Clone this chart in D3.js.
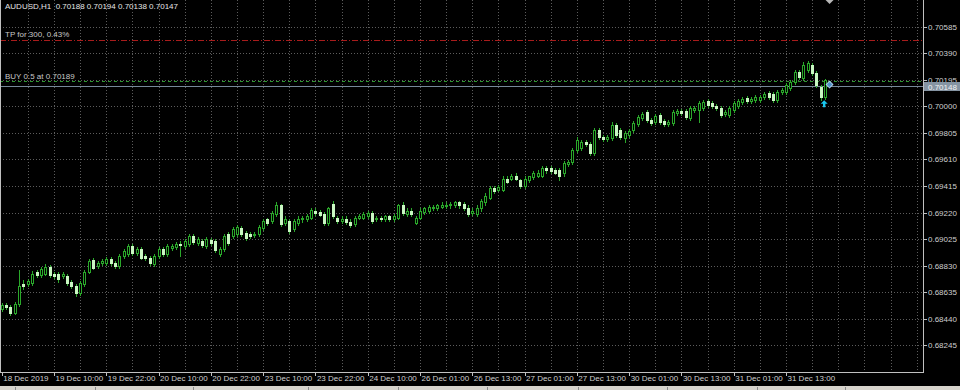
<!DOCTYPE html>
<html>
<head>
<meta charset="utf-8">
<title>AUDUSD,H1</title>
<script src="https://d3js.org/d3.v7.min.js"></script>
<style>
  html, body { margin: 0; padding: 0; background: #000; overflow: hidden; }
  svg { display: block; font-family: "Liberation Sans", Arial, sans-serif; font-size: 8px; }
  .grid line { stroke: #5c5c5c; stroke-dasharray: 1,2; shape-rendering: crispEdges; }
  .frame { stroke: #c0c0c0; shape-rendering: crispEdges; }
  .axis text { fill: #cfcfcf; }
  .wick { stroke: #2aa82a; shape-rendering: crispEdges; }
</style>
</head>
<body>
<script>
// header
var symbol = "AUDUSD,H1";
var lastQuote = ["0.70188", "0.70194", "0.70138", "0.70147"];

// price axis ticks
var priceTicks = [0.70585, 0.70390, 0.70195, 0.70000, 0.69805, 0.69610, 0.69415,
                  0.69220, 0.69025, 0.68830, 0.68635, 0.68440, 0.68245];

// time axis: label text and bar index
var timeLabels = ["18 Dec 2019", "19 Dec 10:00", "19 Dec 22:00", "20 Dec 10:00", "20 Dec 22:00",
                  "23 Dec 10:00", "23 Dec 22:00", "24 Dec 10:00", "26 Dec 01:00", "26 Dec 13:00",
                  "27 Dec 01:00", "27 Dec 13:00", "30 Dec 01:00", "30 Dec 13:00", "31 Dec 01:00",
                  "31 Dec 13:00"];
var timeBars = [0, 12, 24, 36, 48, 60, 72, 84, 96, 108, 120, 132, 144, 156, 168, 180];

// H1 candles
var opens = [
  0.68514,0.68543,0.68528,0.68484,0.68550,0.68698,0.68698,0.68705,0.68786,0.68764,
  0.68771,0.68823,0.68771,0.68771,0.68757,0.68757,0.68712,0.68683,0.68631,0.68698,
  0.68786,0.68874,0.68830,0.68852,0.68852,0.68882,0.68852,0.68830,0.68904,0.68918,
  0.68977,0.68926,0.68955,0.68904,0.68889,0.68845,0.68904,0.68955,0.68918,0.68963,
  0.68970,0.68992,0.68977,0.68992,0.69051,0.69000,0.69014,0.68977,0.69022,0.69014,
  0.68918,0.68955,0.69066,0.69051,0.69066,0.69110,0.69073,0.69066,0.69058,0.69066,
  0.69110,0.69169,0.69161,0.69213,0.69272,0.69146,0.69161,0.69102,0.69146,0.69169,
  0.69176,0.69183,0.69235,0.69227,0.69213,0.69146,0.69286,0.69183,0.69161,0.69176,
  0.69154,0.69139,0.69183,0.69183,0.69198,0.69220,0.69176,0.69183,0.69176,0.69191,
  0.69176,0.69183,0.69279,0.69213,0.69235,0.69146,0.69183,0.69227,0.69235,0.69257,
  0.69257,0.69264,0.69272,0.69272,0.69279,0.69294,0.69286,0.69257,0.69220,0.69213,
  0.69250,0.69294,0.69330,0.69397,0.69389,0.69389,0.69470,0.69470,0.69492,0.69456,
  0.69412,0.69456,0.69478,0.69492,0.69492,0.69544,0.69544,0.69529,0.69529,0.69507,
  0.69573,0.69588,0.69676,0.69691,0.69735,0.69720,0.69654,0.69823,0.69772,0.69757,
  0.69765,0.69860,0.69823,0.69765,0.69787,0.69823,0.69868,0.69912,0.69956,0.69897,
  0.69882,0.69934,0.69890,0.69868,0.69875,0.69949,0.69963,0.69963,0.69912,0.69971,
  0.69971,0.69985,0.70037,0.70022,0.70000,0.69985,0.69941,0.69934,0.69971,0.70000,
  0.70029,0.70059,0.70037,0.70044,0.70044,0.70066,0.70096,0.70088,0.70044,0.70103,
  0.70103,0.70132,0.70177,0.70250,0.70206,0.70265,0.70302,0.70243,0.70140,0.70066
];
var highs = [
  0.68558,0.68558,0.68543,0.68565,0.68801,0.68727,0.68734,0.68793,0.68801,0.68823,
  0.68845,0.68838,0.68786,0.68786,0.68786,0.68771,0.68727,0.68698,0.68720,0.68801,
  0.68882,0.68889,0.68867,0.68882,0.68896,0.68896,0.68867,0.68918,0.68955,0.68992,
  0.68992,0.68970,0.68970,0.68918,0.68904,0.68918,0.68970,0.68970,0.68992,0.68992,
  0.69007,0.69014,0.69029,0.69066,0.69066,0.69044,0.69029,0.69044,0.69036,0.69029,
  0.68970,0.69066,0.69080,0.69117,0.69132,0.69124,0.69088,0.69080,0.69080,0.69132,
  0.69176,0.69183,0.69235,0.69294,0.69286,0.69191,0.69176,0.69176,0.69191,0.69198,
  0.69213,0.69257,0.69250,0.69242,0.69227,0.69264,0.69308,0.69198,0.69191,0.69191,
  0.69169,0.69198,0.69213,0.69227,0.69235,0.69235,0.69198,0.69198,0.69205,0.69205,
  0.69213,0.69286,0.69294,0.69257,0.69250,0.69198,0.69250,0.69264,0.69279,0.69279,
  0.69286,0.69294,0.69294,0.69301,0.69308,0.69308,0.69301,0.69272,0.69250,0.69272,
  0.69323,0.69360,0.69412,0.69412,0.69419,0.69485,0.69485,0.69500,0.69507,0.69470,
  0.69485,0.69492,0.69522,0.69529,0.69559,0.69559,0.69559,0.69544,0.69544,0.69595,
  0.69603,0.69691,0.69772,0.69750,0.69750,0.69735,0.69838,0.69838,0.69787,0.69787,
  0.69882,0.69875,0.69838,0.69816,0.69831,0.69890,0.69934,0.69956,0.69971,0.69912,
  0.69941,0.69949,0.69904,0.69897,0.69971,0.69978,0.69978,0.69978,0.70000,0.70000,
  0.70037,0.70044,0.70052,0.70037,0.70015,0.70000,0.69971,0.70000,0.70037,0.70052,
  0.70066,0.70074,0.70066,0.70081,0.70081,0.70103,0.70110,0.70103,0.70118,0.70132,
  0.70169,0.70191,0.70265,0.70265,0.70324,0.70331,0.70316,0.70258,0.70155,0.70199
];
var lows = [
  0.68499,0.68514,0.68470,0.68477,0.68536,0.68661,0.68683,0.68690,0.68749,0.68749,
  0.68764,0.68749,0.68742,0.68712,0.68742,0.68690,0.68668,0.68609,0.68617,0.68683,
  0.68779,0.68808,0.68815,0.68838,0.68838,0.68838,0.68815,0.68815,0.68889,0.68904,
  0.68911,0.68911,0.68882,0.68874,0.68838,0.68830,0.68889,0.68904,0.68904,0.68948,
  0.68955,0.68904,0.68963,0.68977,0.68992,0.68985,0.68970,0.68963,0.68985,0.68933,
  0.68904,0.68941,0.68985,0.69036,0.69051,0.69051,0.69022,0.69036,0.69044,0.69051,
  0.69095,0.69132,0.69146,0.69198,0.69124,0.69132,0.69073,0.69088,0.69132,0.69154,
  0.69161,0.69169,0.69205,0.69191,0.69132,0.69132,0.69183,0.69146,0.69146,0.69139,
  0.69117,0.69124,0.69169,0.69169,0.69183,0.69146,0.69161,0.69161,0.69161,0.69161,
  0.69161,0.69169,0.69205,0.69198,0.69198,0.69139,0.69169,0.69213,0.69220,0.69242,
  0.69242,0.69250,0.69257,0.69257,0.69264,0.69257,0.69242,0.69198,0.69205,0.69198,
  0.69235,0.69279,0.69316,0.69360,0.69375,0.69375,0.69434,0.69456,0.69456,0.69397,
  0.69397,0.69448,0.69463,0.69478,0.69478,0.69514,0.69507,0.69500,0.69456,0.69492,
  0.69559,0.69573,0.69662,0.69676,0.69706,0.69640,0.69640,0.69757,0.69743,0.69743,
  0.69750,0.69772,0.69757,0.69735,0.69772,0.69809,0.69853,0.69897,0.69882,0.69860,
  0.69868,0.69868,0.69853,0.69853,0.69860,0.69934,0.69934,0.69904,0.69897,0.69956,
  0.69882,0.69971,0.69993,0.69985,0.69971,0.69919,0.69926,0.69919,0.69956,0.69985,
  0.70015,0.70022,0.70022,0.70029,0.70029,0.70052,0.70052,0.70029,0.70029,0.70088,
  0.70088,0.70118,0.70162,0.70199,0.70191,0.70250,0.70228,0.70140,0.70044,0.70052
];
var closes = [
  0.68543,0.68528,0.68484,0.68550,0.68683,0.68683,0.68720,0.68771,0.68764,0.68808,
  0.68823,0.68764,0.68757,0.68734,0.68771,0.68705,0.68683,0.68631,0.68705,0.68786,
  0.68867,0.68815,0.68852,0.68867,0.68882,0.68852,0.68830,0.68904,0.68941,0.68977,
  0.68926,0.68955,0.68889,0.68889,0.68852,0.68904,0.68955,0.68918,0.68977,0.68977,
  0.68992,0.68985,0.69014,0.69051,0.69007,0.69029,0.68985,0.69029,0.69000,0.68948,
  0.68955,0.69051,0.69000,0.69102,0.69117,0.69066,0.69036,0.69051,0.69066,0.69117,
  0.69161,0.69146,0.69220,0.69272,0.69139,0.69176,0.69088,0.69161,0.69176,0.69183,
  0.69198,0.69242,0.69220,0.69205,0.69146,0.69250,0.69198,0.69161,0.69176,0.69154,
  0.69132,0.69183,0.69198,0.69213,0.69220,0.69161,0.69183,0.69176,0.69191,0.69176,
  0.69198,0.69272,0.69220,0.69235,0.69213,0.69183,0.69235,0.69250,0.69264,0.69264,
  0.69272,0.69279,0.69279,0.69286,0.69294,0.69272,0.69257,0.69213,0.69235,0.69257,
  0.69308,0.69345,0.69397,0.69375,0.69404,0.69470,0.69448,0.69485,0.69470,0.69412,
  0.69470,0.69485,0.69507,0.69514,0.69544,0.69529,0.69522,0.69514,0.69492,0.69581,
  0.69588,0.69676,0.69750,0.69735,0.69720,0.69654,0.69823,0.69772,0.69757,0.69772,
  0.69860,0.69787,0.69772,0.69801,0.69816,0.69875,0.69919,0.69941,0.69897,0.69875,
  0.69926,0.69882,0.69868,0.69882,0.69956,0.69963,0.69949,0.69919,0.69985,0.69985,
  0.70022,0.70029,0.70007,0.70000,0.69985,0.69934,0.69956,0.69985,0.70022,0.70037,
  0.70052,0.70037,0.70052,0.70066,0.70066,0.70088,0.70066,0.70044,0.70103,0.70118,
  0.70155,0.70177,0.70250,0.70213,0.70302,0.70316,0.70243,0.70155,0.70066,0.70191
];

// order lines and markers
var bidPrice = 0.70148;
var buyPrice = 0.70189, buyLabel = "BUY 0.5 at 0.70189";
var tpPrice = 0.70489, tpLabel = "TP for 300, 0.43%";
var openMarkPrice = 0.70160;   // diamond at the right of the last bar
var arrowPrice = 0.70044;      // cyan buy arrow tip
var tabEdges = [15, 95, 193, 308, 398, 487, 578, 667, 757, 845];

var W = 960, H = 390, plotR = 923, plotB = 372;

var svg = d3.select("body").append("svg")
    .attr("width", W)
    .attr("height", H);

svg.append("rect").attr("width", W).attr("height", H).attr("fill", "#000");

var x = d3.scaleLinear().domain([0, 189]).range([1.7, 825.2]);
var y = d3.scaleLinear().domain([0.68245, 0.70585]).range([345.3, 26.7]);
var px = function(v) { return Math.round(v) + 0.5; };

// grid
var grid = svg.append("g").attr("class", "grid");
grid.selectAll("line.h")
    .data(priceTicks)
    .enter().append("line")
    .attr("class", "h")
    .attr("x1", 0).attr("x2", plotR)
    .attr("y1", d => px(y(d))).attr("y2", d => px(y(d)));
grid.selectAll("line.v")
    .data(d3.range(6, 216, 6).filter(b => x(b) < plotR - 2))
    .enter().append("line")
    .attr("class", "v")
    .attr("y1", 0).attr("y2", plotB)
    .attr("x1", d => px(x(d))).attr("x2", d => px(x(d)));

// TP line
svg.append("line")
    .attr("x1", 0).attr("x2", plotR)
    .attr("y1", px(y(tpPrice))).attr("y2", px(y(tpPrice)))
    .attr("stroke", "#a81c1c").attr("stroke-dasharray", "6,2,1,2")
    .attr("shape-rendering", "crispEdges");
svg.append("text").attr("x", 5).attr("y", y(tpPrice) - 2.5)
    .attr("fill", "#c8c8c8").text(tpLabel);

// BUY line
svg.append("line")
    .attr("x1", 0).attr("x2", plotR)
    .attr("y1", px(y(buyPrice))).attr("y2", px(y(buyPrice)))
    .attr("stroke", "#2c962c").attr("stroke-dasharray", "3,3")
    .attr("shape-rendering", "crispEdges");
svg.append("text").attr("x", 5).attr("y", y(buyPrice) - 1.5)
    .attr("fill", "#c8c8c8").text(buyLabel);

// bid line
svg.append("line")
    .attr("x1", 0).attr("x2", plotR)
    .attr("y1", px(y(bidPrice))).attr("y2", px(y(bidPrice)))
    .attr("stroke", "#778899")
    .attr("shape-rendering", "crispEdges");

// candles
var bars = d3.range(opens.length).map(i => ({
    i: i, o: opens[i], h: highs[i], l: lows[i], c: closes[i]
}));

var candle = svg.append("g").selectAll("g")
    .data(bars)
    .enter().append("g");

candle.append("line")
    .attr("class", "wick")
    .attr("x1", d => px(x(d.i))).attr("x2", d => px(x(d.i)))
    .attr("y1", d => Math.round(y(d.h))).attr("y2", d => Math.round(y(d.l)) + 1);

candle.filter(d => d.c >= d.o).append("rect")
    .attr("x", d => Math.round(x(d.i)) - 0.5)
    .attr("y", d => Math.round(y(d.c)) + 0.5)
    .attr("width", 2)
    .attr("height", d => Math.max(1, Math.round(y(d.o)) - Math.round(y(d.c))))
    .attr("fill", "#000")
    .attr("stroke", "#2aa82a")
    .attr("shape-rendering", "crispEdges");

candle.filter(d => d.c < d.o).append("rect")
    .attr("x", d => Math.round(x(d.i)) - 1)
    .attr("y", d => Math.round(y(d.o)))
    .attr("width", 3)
    .attr("height", d => Math.max(1, Math.round(y(d.c)) - Math.round(y(d.o)) + 1))
    .attr("fill", "#c9f7c2")
    .attr("shape-rendering", "crispEdges");

// markers at the last bar
var lastX = x(opens.length);
svg.append("path")
    .attr("d", d3.symbol().type(d3.symbolSquare).size(22)())
    .attr("transform", "translate(" + lastX + "," + y(openMarkPrice) + ") rotate(45)")
    .attr("fill", "#4f8fc8").attr("stroke", "#a9cdea").attr("stroke-width", 1);

var ax = x(opens.length - 1) - 1, ay = y(arrowPrice);
svg.append("path")
    .attr("d", "M" + ax + "," + ay + "l-3.5,3.5h2.3v3.5h2.4v-3.5h2.3z")
    .attr("fill", "#19c8f0");

// chart shift marker
svg.append("path")
    .attr("d", "M" + (lastX - 4) + ",0h8l-4,4z")
    .attr("fill", "#b8b8b8");

// frame
svg.append("line").attr("class", "frame")
    .attr("x1", 0.5).attr("x2", 0.5).attr("y1", 0).attr("y2", plotB)
    .attr("stroke", "#6a6a6a");
svg.append("line").attr("class", "frame")
    .attr("x1", plotR + 0.5).attr("x2", plotR + 0.5).attr("y1", 0).attr("y2", plotB + 0.5);
svg.append("line").attr("class", "frame")
    .attr("x1", 0).attr("x2", plotR + 0.5).attr("y1", plotB + 0.5).attr("y2", plotB + 0.5);

// price axis
var pAxis = svg.append("g").attr("class", "axis");
pAxis.selectAll("line")
    .data(priceTicks)
    .enter().append("line")
    .attr("class", "frame")
    .attr("x1", plotR).attr("x2", plotR + 4)
    .attr("y1", d => px(y(d))).attr("y2", d => px(y(d)));
pAxis.selectAll("text")
    .data(priceTicks)
    .enter().append("text")
    .attr("x", plotR + 5)
    .attr("y", d => y(d) + 3)
    .text(d => d.toFixed(5));

// bid label
var by = y(bidPrice);
svg.append("rect")
    .attr("x", plotR + 1).attr("y", Math.round(by) - 4)
    .attr("width", W - plotR - 1).attr("height", 9)
    .attr("fill", "#8594a3");
svg.append("text")
    .attr("x", plotR + 5).attr("y", by + 3.5)
    .attr("fill", "#f2f2f2")
    .text(bidPrice.toFixed(5));

// time axis
var tAxis = svg.append("g").attr("class", "axis");
tAxis.selectAll("line")
    .data(timeBars)
    .enter().append("line")
    .attr("class", "frame")
    .attr("x1", d => px(x(d))).attr("x2", d => px(x(d)))
    .attr("y1", plotB).attr("y2", plotB + 4);
tAxis.selectAll("text")
    .data(timeLabels)
    .enter().append("text")
    .attr("x", (d, k) => Math.max(2, x(timeBars[k]) + 1.5))
    .attr("y", 381)
    .text(d => d);

// header
svg.append("text")
    .attr("x", 5).attr("y", 9)
    .attr("fill", "#e6e6e6")
    .attr("xml:space", "preserve")
    .text(symbol + "  " + lastQuote.join(" "));

// terminal tab strip at the bottom
svg.append("rect")
    .attr("x", 0).attr("y", 386).attr("width", W).attr("height", 4)
    .attr("fill", "#d6d3cc");
svg.selectAll("line.tab")
    .data(tabEdges)
    .enter().append("line")
    .attr("class", "tab")
    .attr("x1", d => d + 0.5).attr("x2", d => d + 0.5)
    .attr("y1", 387).attr("y2", 390)
    .attr("stroke", "#8a8a8a");
</script>
</body>
</html>
